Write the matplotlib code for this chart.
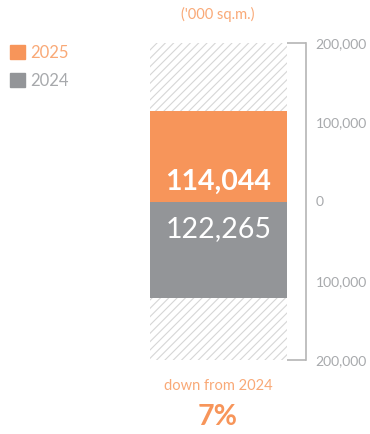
import matplotlib.pyplot as plt
import matplotlib.patches as mpatches

plt.rcParams['font.family'] = ['Lato', 'DejaVu Sans']
plt.rcParams['hatch.linewidth'] = 0.8

# data
years = ['2025', '2024']
values = [114044, 122265]
scale_max = 200000
ticks = [200000, 100000, 0, -100000, -200000]
tick_labels = ['200,000', '100,000', '0', '100,000', '200,000']
change_pct = '7%'

orange = '#F7955A'
light_orange = '#F9A977'
grey = '#939598'
tick_grey = '#A7A9AC'
hatch_grey = '#D6D6D6'

fig = plt.figure(figsize=(3.70, 4.34), dpi=100)
W, H = 370, 434
# axes spans from bar left edge to the bracket line
ax = fig.add_axes([150 / W, (H - 360) / H, (306 - 150) / W, (360 - 43) / H])
ax.set_xlim(0, 1)
ax.set_ylim(-scale_max, scale_max)

bar_w = (287 - 150) / (306 - 150)

# hatched background (capacity of the scale)
plt.rcParams['hatch.color'] = hatch_grey
ax.bar(0, scale_max, width=bar_w, align='edge', color='none', hatch='////',
       edgecolor=hatch_grey, linewidth=0)
ax.bar(0, -scale_max, width=bar_w, align='edge', color='none', hatch='////',
       edgecolor=hatch_grey, linewidth=0)

# 2025 above zero, 2024 below zero
ax.bar(0, values[0], width=bar_w, align='edge', color=orange, linewidth=0)
ax.bar(0, -values[1], width=bar_w, align='edge', color=grey, linewidth=0)

ax.text(bar_w / 2, values[0] * 0.22, f'{values[0]:,}', ha='center', va='center',
        color='white', fontsize=20.5, fontweight='bold')
ax.text(bar_w / 2, -values[1] * 0.28, f'{values[1]:,}', ha='center', va='center',
        color='white', fontsize=20.5)

# bracket
for s in ['left', 'top', 'bottom']:
    ax.spines[s].set_visible(False)
ax.spines['right'].set_color('#B5B5B5')
ax.spines['right'].set_linewidth(1.2)
ax.hlines([scale_max, -scale_max], bar_w, 1, color='#B5B5B5', lw=1.2, clip_on=False)

ax.set_xticks([])
ax.yaxis.tick_right()
ax.set_yticks(ticks)
ax.set_yticklabels(tick_labels)
ax.tick_params(axis='y', length=0, pad=7, labelsize=10, labelcolor=tick_grey)

# legend
handles = [mpatches.Patch(color=orange, label=years[0]),
           mpatches.Patch(color=grey, label=years[1])]
leg = fig.legend(handles=handles, loc='upper left', bbox_to_anchor=(0.0, 0.92),
                 frameon=False, fontsize=12, handlelength=0.9, handleheight=0.9,
                 handletextpad=0.3, labelspacing=0.72, borderaxespad=0.2)
leg.get_texts()[0].set_color(light_orange)
leg.get_texts()[1].set_color(tick_grey)

fig.text(218 / W, 1 - 14 / H, "('000 sq.m.)", ha='center', va='center',
         color=light_orange, fontsize=10.5)
fig.text(218 / W, 1 - 386 / H, 'down from ' + years[1], ha='center', va='center',
         color=light_orange, fontsize=10.5)
fig.text(218 / W, 1 - 417 / H, change_pct, ha='center', va='center',
         color=orange, fontsize=20.5, fontweight='bold')

fig.savefig('out.png', dpi=100)
